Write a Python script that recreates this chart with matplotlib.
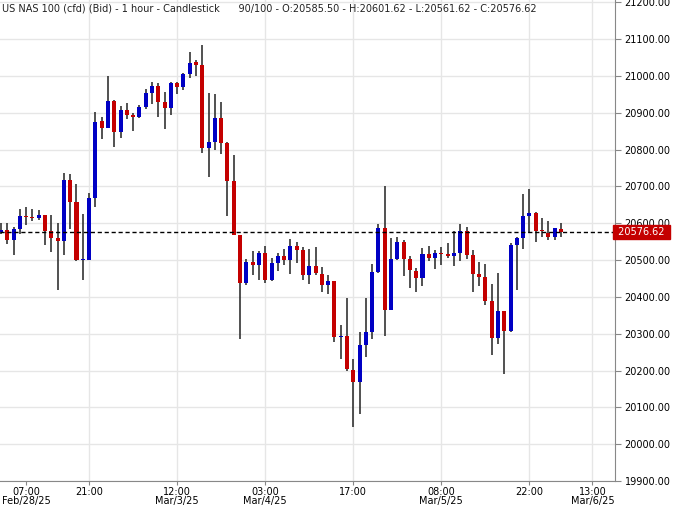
import matplotlib
matplotlib.use("Agg")
import matplotlib.pyplot as plt
from matplotlib.patches import Rectangle

opens = [20576,20582,20556,20585,20619,20617,20614,20622,20579,20559,20553,20718,20657,20500,20501,20670,20878,20858,20932,20849,20908,20894,20889,20916,
         20953,20972,20929,20913,20980,20969,21006,21037,21031,20804,20822,20886,20817,20715,20568,20438,20496,20486,20520,20446,20491,20510,20500,
         20538,20528,20459,20484,20463,20432,20442,20291,20293,20202,20168,20269,20306,20468,20588,20365,20503,20548,20503,20471,20451,20516,20506,
         20519,20516,20512,20519,20578,20514,20463,20455,20389,20288,20363,20307,20540,20559,20620,20628,20580,20575,20562,20585.50]
closes = [20582,20556,20584,20619,20617,20614,20622,20579,20559,20553,20718,20657,20500,20501,20670,20876,20858,20932,20849,20908,20895,20890,20916,20953,
          20972,20929,20913,20980,20969,21006,21036,21031,20804,20822,20886,20818,20715,20569,20438,20496,20486,20520,20446,20491,20510,20500,20539,
          20528,20459,20484,20464,20432,20442,20291,20293,20203,20168,20269,20306,20468,20588,20365,20503,20548,20503,20472,20451,20516,20506,20519,
          20517,20512,20519,20578,20514,20463,20455,20389,20288,20363,20307,20540,20559,20620,20628,20580,20578,20562,20586,20576.62]
highs = [20602,20602,20589,20638,20643,20638,20635,20622,20622,20602,20738,20735,20707,20624,20681,20902,20889,21000,20935,20918,20926,20900,20921,20966,
         20985,20980,20956,20985,20985,21009,21065,21044,21085,20953,20950,20929,20822,20785,20568,20502,20526,20526,20539,20507,20518,20531,20558,
         20548,20535,20530,20535,20482,20460,20442,20325,20397,20231,20306,20397,20490,20599,20700,20559,20564,20556,20511,20479,20532,20538,20527,
         20535,20546,20578,20599,20591,20527,20495,20490,20434,20466,20363,20546,20564,20679,20692,20631,20615,20607,20588,20601.62]
lows = [20571,20545,20513,20572,20596,20607,20609,20542,20521,20420,20515,20585,20497,20446,20500,20644,20829,20858,20807,20831,20884,20850,20886,20911,
        20925,20889,20855,20895,20951,20962,20996,20999,20791,20727,20799,20788,20620,20569,20286,20433,20460,20446,20438,20444,20470,20486,20462,
        20493,20445,20435,20459,20413,20408,20278,20232,20200,20048,20081,20238,20286,20466,20294,20365,20500,20458,20424,20413,20429,20498,20476,
        20487,20506,20485,20498,20503,20413,20431,20379,20243,20272,20190,20304,20419,20531,20573,20549,20562,20556,20556,20561.62]

tick_idx = [4, 14, 28, 42, 56, 70, 84, 94]
tick_labels = ["07:00\nFeb/28/25", "21:00", "12:00\nMar/3/25", "03:00\nMar/4/25", "17:00",
               "08:00\nMar/5/25", "22:00", "13:00\nMar/6/25"]
y_ticks = list(range(19900, 21201, 100))
last_price = 20576.62

fig = plt.figure(figsize=(6.89, 5.07), dpi=100)
ax = fig.add_axes([0, 1 - 481/507, 615/689, 481/507])
ax.set_xlim(-0.16, 97.6)
ax.set_ylim(19918.7, 21206.6)

for t in y_ticks:
    ax.axhline(t, color="#e6e6e6", lw=1, zorder=0)
for t in tick_idx[1:]:
    ax.axvline(t, color="#e6e6e6", lw=1, zorder=0)

red, blue = "#c40000", "#0000c4"
w = 0.64
for i, (o, h, l, c) in enumerate(zip(opens, highs, lows, closes)):
    col = blue if c >= o else red
    ax.vlines(i, l, h, color="#333333", lw=1.2, zorder=2)
    lo, hi = min(o, c), max(o, c)
    ax.add_patch(Rectangle((i - w/2, lo), w, max(hi - lo, 2.5), facecolor=col, edgecolor="none", zorder=3))

ax.axhline(last_price, color="black", lw=1, ls=(0, (3, 2)), zorder=4)

ax.set_xticks(tick_idx)
ax.set_xticklabels(tick_labels, fontsize=7, linespacing=0.95)
ax.yaxis.tick_right()
ax.set_yticks(y_ticks)
ax.set_yticklabels([f"{t:.2f}" for t in y_ticks], fontsize=7)
ax.tick_params(axis="y", length=4, color="#888888", pad=3)
ax.tick_params(axis="x", length=3, color="#888888", pad=1)
for s in ["top", "left"]:
    ax.spines[s].set_visible(False)
for s in ["right", "bottom"]:
    ax.spines[s].set_color("#888888")

ax.text(1.0, last_price, " 20576.62 ", transform=ax.get_yaxis_transform(), fontsize=7,
        color="white", va="center", ha="left",
        bbox=dict(facecolor="#c40000", edgecolor="#c40000", boxstyle="square,pad=0.2"), zorder=10, clip_on=False)

ax.text(0.003, 0.992, "US NAS 100 (cfd) (Bid) - 1 hour - Candlestick      90/100 - O:20585.50 - H:20601.62 - L:20561.62 - C:20576.62",
        transform=ax.transAxes, fontsize=7, va="top", ha="left", color="#222222")

fig.savefig("out.png", dpi=100)
